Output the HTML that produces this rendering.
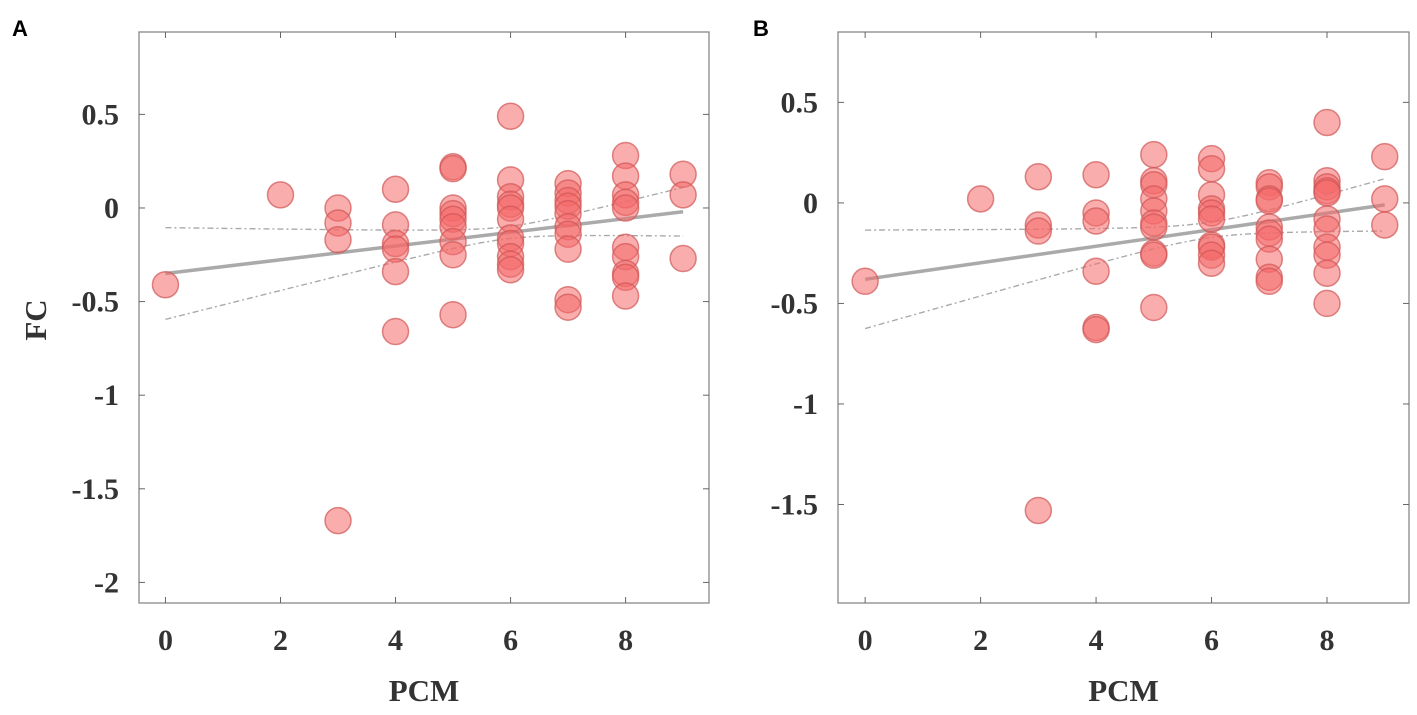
<!DOCTYPE html>
<html><head><meta charset="utf-8"><style>
body{margin:0;background:#fff;width:1417px;height:710px;overflow:hidden}
svg text{font-family:"Liberation Serif",serif;font-weight:bold;fill:#333}
</style></head><body>
<svg id="fig" width="1417" height="710"></svg>
<script>
const xTicks=[0,2,4,6,8];
const yTicksA=[0.5,0,-0.5,-1,-1.5,-2];
const yTicksB=[0.5,0,-0.5,-1,-1.5];
const xA=[0,2,3,3,3,3,4,4,4,4,4,4,5,5,5,5,5,5,5,5,5,6,6,6,6,6,6,6,6,6,6,6,7,7,7,7,7,7,7,7,7,7,8,8,8,8,8,8,8,8,8,8,9,9,9];
const yA=[-0.41,0.07,0.0,-0.08,-0.17,-1.67,0.10,-0.09,-0.19,-0.22,-0.34,-0.66,0.22,0.21,0.0,-0.03,-0.06,-0.10,-0.18,-0.25,-0.57,0.49,0.15,0.06,0.02,0.0,-0.06,-0.16,-0.19,-0.26,-0.30,-0.33,0.13,0.08,0.04,0.01,-0.03,-0.10,-0.14,-0.22,-0.49,-0.53,0.28,0.17,0.07,0.03,0.0,-0.21,-0.26,-0.35,-0.37,-0.47,0.18,0.07,-0.27];
const xB=[0,2,3,3,3,3,4,4,4,4,4,4,5,5,5,5,5,5,5,5,5,5,6,6,6,6,6,6,6,6,6,6,7,7,7,7,7,7,7,7,7,7,8,8,8,8,8,8,8,8,8,8,8,9,9,9];
const yB=[-0.39,0.02,0.13,-0.11,-0.14,-1.53,0.14,-0.05,-0.09,-0.34,-0.62,-0.63,0.24,0.11,0.09,0.02,-0.04,-0.10,-0.12,-0.25,-0.26,-0.52,0.22,0.17,0.04,-0.03,-0.05,-0.08,-0.21,-0.22,-0.26,-0.30,0.10,0.08,0.02,0.01,-0.12,-0.15,-0.18,-0.28,-0.37,-0.39,0.40,0.11,0.08,0.06,0.05,-0.08,-0.13,-0.22,-0.26,-0.35,-0.50,0.23,0.02,-0.11];
const fitA=[-0.35,-0.02];
const fitB=[-0.38,-0.01];
const NS='http://www.w3.org/2000/svg';
const svg=document.getElementById('fig');
function mk(t,a,p){const e=document.createElementNS(NS,t);for(const k in a)e.setAttribute(k,a[k]);(p||svg).appendChild(e);return e;}
function panel(id,L,R,T,B,x0,x1,y0,y1,yT,xs,ys,fit,labX,showFC){
  const g=mk('g',{});
  
  
  const sx=v=>L+(v-x0)/(x1-x0)*(R-L), sy=v=>T+(y1-v)/(y1-y0)*(B-T);
  const fr=mk('rect',{x:L,y:T,width:R-L,height:B-T,fill:'none',stroke:'#888','stroke-width':1.3},g);
  
  
  xTicks.forEach(v=>{const X=sx(v);
    mk('line',{x1:X,x2:X,y1:B,y2:B-6,stroke:'#666'},g);mk('line',{x1:X,x2:X,y1:T,y2:T+6,stroke:'#666'},g);
    const t=mk('text',{x:X,y:650,'text-anchor':'middle','font-size':30},g);t.textContent=v;
    
    });
  yT.forEach(v=>{const Y=sy(v);
    mk('line',{x1:L,x2:L+6,y1:Y,y2:Y,stroke:'#666'},g);mk('line',{x1:R,x2:R-6,y1:Y,y2:Y,stroke:'#666'},g);
    const t=mk('text',{x:L-20,y:Y+10,'text-anchor':'end','font-size':30},g);t.textContent=v;
    
    });
  const n=xs.length,xm=xs.reduce((a,b)=>a+b,0)/n;
  const f=v=>fit[0]+(fit[1]-fit[0])*v/9;
  const b=(0.245*0.245-0.13*0.13)/((xm)*(xm)-(9-xm)*(9-xm)), a=0.13*0.13-b*(9-xm)*(9-xm);
  const h=v=>Math.sqrt(Math.max(0.0004,a+b*(v-xm)*(v-xm)));
  let up='',lo='';
  for(let i=0;i<=45;i++){const v=i*0.2;up+=(i?'L':'M')+sx(v)+','+sy(f(v)+h(v));lo+=(i?'L':'M')+sx(v)+','+sy(f(v)-h(v));}
  const cu=mk('path',{d:up,fill:'none',stroke:'#aaa','stroke-width':1.4,'stroke-dasharray':'6 3 2 3'},g);
  
  
  const cl=mk('path',{d:lo,fill:'none',stroke:'#aaa','stroke-width':1.4,'stroke-dasharray':'6 3 2 3'},g);
  
  
  const fl=mk('line',{x1:sx(0),y1:sy(f(0)),x2:sx(9),y2:sy(f(9)),stroke:'#aaa','stroke-width':3.5},g);
  
  
  xs.forEach((v,i)=>{const c=mk('circle',{cx:sx(v),cy:sy(ys[i]),r:13,fill:'#f46a6a','fill-opacity':0.55,stroke:'#d05555','stroke-opacity':0.7,'stroke-width':1.5},g);
    
    });
  const xl=mk('text',{x:(L+R)/2,y:701,'text-anchor':'middle','font-size':31},g);xl.textContent='PCM';
  
  
  if(showFC){const yl=mk('text',{x:46,y:320,'text-anchor':'middle','font-size':31,transform:'rotate(-90 46 320)'},g);yl.textContent='FC';
    
    }
  const pl=mk('text',{x:labX,y:36,'font-size':22,style:'font-family:"Liberation Sans",sans-serif;fill:#000'},g);pl.textContent=id;
  
  
}
panel('A',139,709,32,603,-0.46,9.45,-2.11,0.94,yTicksA,xA,yA,fitA,12,true);
panel('B',838,1409,32,603,-0.47,9.42,-1.99,0.85,yTicksB,xB,yB,fitB,753,false);
</script>
</body></html>
